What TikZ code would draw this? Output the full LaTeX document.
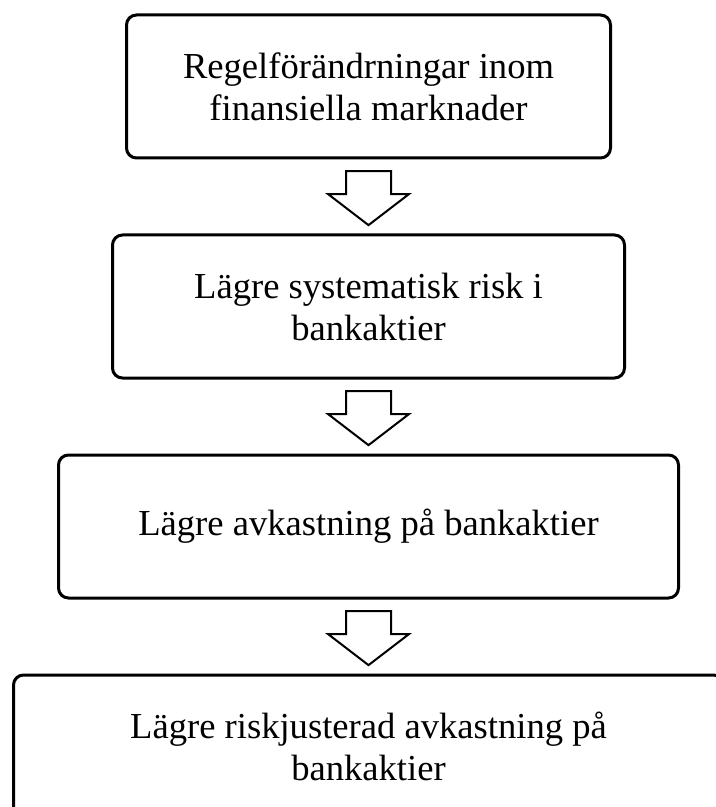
\documentclass[tikz,border=0pt]{standalone}
\usepackage{fontspec}
\setmainfont{Liberation Serif}
\usetikzlibrary{positioning,shapes.arrows}

\begin{document}
\begin{tikzpicture}[
  font=\fontsize{18.3pt}{21pt}\selectfont,
  stepbox/.style={draw,line width=1.5pt,rounded corners=5pt,align=center,minimum height=71.5pt,inner sep=0pt},
  downarrow/.style={single arrow,draw,line width=1pt,shape border rotate=270,inner xsep=10.75pt,inner ysep=0pt,
    minimum height=27pt,single arrow head extend=9pt,single arrow tip angle=105,yshift=3.5pt},
]
\useasboundingbox (0,0) rectangle (358pt,-403.5pt);
\node[stepbox,minimum width=242pt] (r1) at (184.25pt,-43.25pt)
  {Regelförändrningar inom\\finansiella marknader};
\node[stepbox,minimum width=256pt,below=37pt of r1] (r2)
  {Lägre systematisk risk i\\bankaktier};
\node[stepbox,minimum width=310pt,below=37pt of r2] (r3)
  {Lägre avkastning på bankaktier};
\node[stepbox,minimum width=355pt,below=37pt of r3] (r4)
  {Lägre riskjusterad avkastning på\\bankaktier};
\path (r1.south) -- node[downarrow] (a1) {} (r2.north);
\path (r2.south) -- node[downarrow] (a2) {} (r3.north);
\path (r3.south) -- node[downarrow] (a3) {} (r4.north);
\end{tikzpicture}
\end{document}
